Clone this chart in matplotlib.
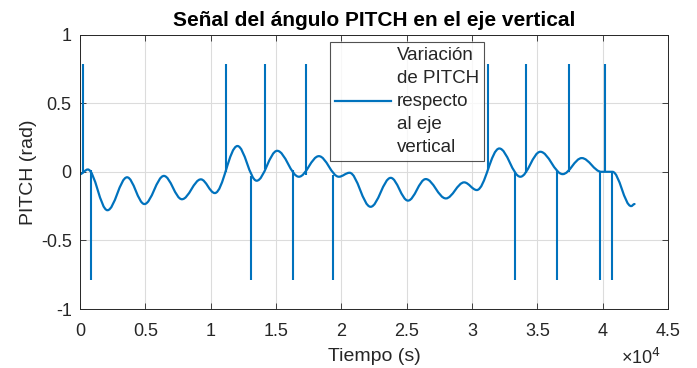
import numpy as np
import matplotlib
matplotlib.use("Agg")
import matplotlib.pyplot as plt
from matplotlib.path import Path
from matplotlib.patches import PathPatch

# turning points of the slow oscillation
tiempo = [0, 600, 2100, 3600, 4930, 6420, 7800, 9250, 10320, 12050, 13520,
          15090, 16750, 18280, 19810, 20630, 22240, 23780, 25100, 26460,
          28000, 29400, 30370, 32090, 33700, 35230, 36940, 38400, 39900,
          40750, 42180, 42440]
pitch = [-0.017, 0.017, -0.28, -0.04, -0.235, -0.03, -0.20, -0.055, -0.155,
         0.188, -0.065, 0.153, -0.036, 0.114, -0.036, -0.007, -0.255,
         -0.044, -0.21, -0.053, -0.194, -0.077, -0.133, 0.17, -0.036, 0.146,
         -0.017, 0.10, 0.0, 0.0, -0.25, -0.235]

# single-sample jumps: time, value before/after, value of the jump
saltos_t = [200, 820, 11170, 13090, 14140, 16280, 17260, 19330, 31190,
            33290, 34130, 36510, 37400, 39830, 40190, 40730]
saltos_base = [0.0, 0.01, 0.0, -0.03, 0.02, 0.01, -0.02, -0.02, 0.01,
               -0.01, -0.01, 0.01, 0.0, 0.0, 0.0, 0.0]
saltos_v = [0.785, -0.785, 0.785, -0.785, 0.785, -0.785, 0.785, -0.785,
            0.785, -0.785, 0.785, -0.785, 0.785, -0.785, 0.785, -0.785]

xticks = [0, 5000, 10000, 15000, 20000, 25000, 30000, 35000, 40000, 45000]
xticklabels = ['0', '0.5', '1', '1.5', '2', '2.5', '3', '3.5', '4', '4.5']
yticks = [-1, -0.5, 0, 0.5, 1]
yticklabels = ['-1', '-0.5', '0', '0.5', '1']

plt.rcParams['font.family'] = ['Liberation Sans', 'DejaVu Sans']
tc = '#262626'
azul = '#0072BD'

fig = plt.figure(figsize=(6.97, 3.68), dpi=100)
ax = fig.add_axes([0.1148, 0.1603, 0.8436, 0.7457])

# smooth curve through the turning points (flat tangents at each one)
verts = [(tiempo[0], pitch[0])]
codes = [Path.MOVETO]
for i in range(len(tiempo) - 1):
    d = tiempo[i + 1] - tiempo[i]
    verts += [(tiempo[i] + 0.36 * d, pitch[i]),
              (tiempo[i + 1] - 0.36 * d, pitch[i + 1]),
              (tiempo[i + 1], pitch[i + 1])]
    codes += [Path.CURVE4] * 3
ax.add_patch(PathPatch(Path(verts, codes), fc='none', ec=azul, lw=1.6,
                       capstyle='round', joinstyle='round'))
ax.vlines(saltos_t, saltos_base, saltos_v, color=azul, lw=1.5)
ax.plot([], [], color=azul, lw=1.6,
        label='Variación\nde PITCH\nrespecto\nal eje\nvertical')

ax.set_xlim(0, 45000)
ax.set_ylim(-1, 1)
ax.set_xticks(xticks)
ax.set_xticklabels(xticklabels)
ax.set_yticks(yticks)
ax.set_yticklabels(yticklabels)
ax.grid(True, color='#dcdcdc', lw=0.8)
ax.set_axisbelow(True)
ax.tick_params(direction='in', top=True, right=True, length=4, width=0.6,
               colors=tc, labelsize=13)
ax.tick_params(axis='x', pad=10)
ax.tick_params(axis='y', pad=6)
for s in ax.spines.values():
    s.set_color(tc)
    s.set_linewidth(0.7)

ax.set_title('Señal del ángulo PITCH en el eje vertical', fontsize=15,
             fontweight='bold', color='black', pad=6)
ax.set_xlabel('Tiempo (s)', fontsize=14, color=tc, labelpad=6)
ax.set_ylabel('PITCH (rad)', fontsize=14, color=tc, labelpad=3)
ax.text(0.988, -0.142, '×10$^4$', transform=ax.transAxes, ha='right',
        va='top', fontsize=13, color=tc)

leg = ax.legend(loc='upper left', bbox_to_anchor=(0.425, 0.973),
                fontsize=13.5, frameon=True, fancybox=False,
                handlelength=3.0, handletextpad=0.3, borderpad=0.28,
                borderaxespad=0)
leg.get_frame().set_edgecolor(tc)
leg.get_frame().set_linewidth(0.8)
for txt in leg.get_texts():
    txt.set_color(tc)
    txt.set_linespacing(1.45)

fig.savefig('out.png', dpi=100)
